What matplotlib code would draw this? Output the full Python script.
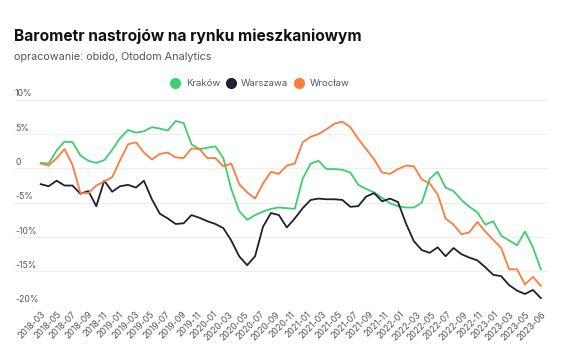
import matplotlib
matplotlib.use("Agg")
import matplotlib.pyplot as plt
from matplotlib.lines import Line2D
import numpy as np
import pandas as pd

plt.rcParams['font.family'] = ['Inter', 'DejaVu Sans']

# monthly readings 2018-03 .. 2023-06
months = [str(p) for p in pd.period_range('2018-03', '2023-06', freq='M')]

krakow = [0.8, 0.7, 2.6, 3.9, 3.8, 1.9, 1.1, 0.8, 1.2, 2.7,
          4.4, 5.6, 5.2, 5.4, 6.0, 5.8, 5.5, 6.9, 6.6, 3.5,
          2.8, 3.0, 3.2, 1.5, -3.0, -6.2, -7.5, -6.8, -6.3, -5.9,
          -5.7, -5.8, -5.9, -1.5, 0.7, 1.1, -0.1, -0.1, -0.2, -0.6,
          -2.4, -3.0, -3.5, -4.3, -5.1, -5.5, -5.7, -5.7, -5.0, -1.5,
          -0.5, -2.8, -3.3, -4.6, -5.6, -6.4, -8.2, -7.7, -9.8, -10.5,
          -11.2, -9.2, -11.5, -14.7]

warszawa = [-2.3, -2.6, -1.8, -2.5, -2.5, -3.7, -3.3, -5.5, -1.8, -3.4,
            -2.6, -2.4, -2.8, -1.8, -4.5, -6.6, -7.3, -8.1, -8.0, -6.8,
            -7.2, -7.7, -8.1, -8.7, -10.5, -12.8, -14.1, -12.8, -8.5, -6.5,
            -6.8, -8.6, -7.3, -5.8, -4.6, -4.4, -4.5, -4.5, -4.6, -5.6,
            -5.5, -4.1, -3.6, -4.8, -4.4, -4.9, -8.0, -10.6, -11.9, -12.3,
            -11.5, -12.8, -11.6, -12.5, -13.0, -13.4, -14.4, -15.5, -15.7, -17.0,
            -17.8, -18.3, -17.7, -18.9]

wroclaw = [0.7, 0.4, 1.5, 2.8, 0.5, -3.6, -3.6, -2.5, -1.9, -1.3,
           1.2, 3.5, 3.8, 2.3, 1.3, 2.1, 2.3, 1.6, 1.5, 2.9,
           2.8, 1.5, 1.5, 0.3, 0.7, -2.3, -3.5, -4.4, -2.2, -0.5,
           -0.8, 0.4, 0.7, 3.8, 4.6, 5.0, 5.7, 6.5, 6.8, 6.0,
           4.3, 2.8, 1.3, -0.6, -0.8, -0.1, 0.4, 0.3, -1.6, -2.2,
           -3.8, -7.3, -8.2, -9.6, -9.3, -7.8, -9.2, -10.4, -11.6, -14.7,
           -14.7, -16.9, -15.8, -17.1]

series = [('Kraków', krakow, '#3ccf6e'),
          ('Warszawa', warszawa, '#1a2135'),
          ('Wrocław', wroclaw, '#ff7a3d')]

yticks = [10, 5, 0, -5, -10, -15, -20]
ytick_labels = ['10%', '5%', '0', '-5%', '-10%', '-15%', '-20%']
# the source axis labels every ~2 months at an even spacing
xtick_labels = months[0:62:2] + ['2023-05', '2023-06']

fig = plt.figure(figsize=(5.64, 3.53), dpi=100)
ax = fig.add_axes([15 / 564, 1 - 305.7 / 353, 533 / 564, 206 / 353])

x = list(range(len(months)))
for name, vals, col in series:
    ax.plot(x, vals, color=col, lw=1.3, solid_joinstyle='round')

ax.set_xlim(-3.24, 63.9)
ax.set_ylim(-20, 10)

for s in ax.spines.values():
    s.set_visible(False)
ax.set_yticks(yticks)
ax.set_yticklabels([])
ax.tick_params(axis='y', length=0)
ax.grid(axis='y', color='#eeeeee', lw=0.8)
ax.set_axisbelow(True)
for v, lab in zip(yticks, ytick_labels):
    ax.annotate(lab, xy=(0, v), xycoords=('axes fraction', 'data'),
                xytext=(0, 1), textcoords='offset points',
                ha='left', va='bottom', fontsize=6.3, color='#555555')

tick_pos = np.linspace(0, len(months) - 1, len(xtick_labels))
ax.set_xticks(tick_pos)
ax.set_xticklabels(xtick_labels, rotation=45, ha='right',
                   rotation_mode='anchor', fontsize=6.3, color='#555555')
ax.tick_params(axis='x', length=0, pad=3)

fig.text(14 / 564, 1 - 41.5 / 353, 'Barometr nastrojów na rynku mieszkaniowym',
         fontsize=11.2, fontweight='bold', color='#111111', va='baseline')
fig.text(14 / 564, 1 - 60 / 353, 'opracowanie: obido, Otodom Analytics',
         fontsize=7.8, color='#555555', va='baseline')

handles = [Line2D([], [], marker='o', ls='none', color=c, markersize=7)
           for _, _, c in series]
fig.legend(handles, [n for n, _, _ in series], loc='center',
           bbox_to_anchor=(260 / 564, 1 - 83.5 / 353), ncol=3, frameon=False,
           fontsize=6.9, labelcolor='#555555', handletextpad=0.6,
           columnspacing=0.6, handlelength=1.0)

fig.savefig('out.png', dpi=100)
